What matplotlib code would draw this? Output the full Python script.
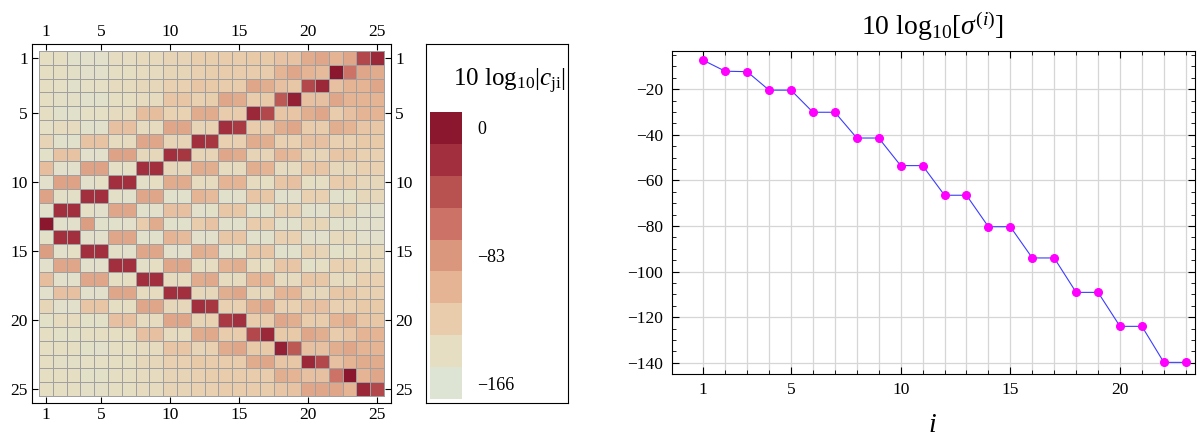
import numpy as np
import matplotlib.pyplot as plt
from matplotlib.colors import LinearSegmentedColormap

plt.rcParams['font.family'] = ['Liberation Serif', 'DejaVu Serif']
plt.rcParams['mathtext.fontset'] = 'custom'
plt.rcParams['mathtext.rm'] = 'Liberation Serif'
plt.rcParams['mathtext.it'] = 'Liberation Serif:italic'

# shade of each cell: 0 = lightest band (-166), 8 = darkest band (0)
c_shade = np.array([
    [1.0,1.0,0.5,0.6,0.6,1.1,1.1,1.3,1.3,1.6,1.6,1.9,1.9,2.0,2.0,2.1,2.1,2.4,2.4,3.3,3.5,3.0,3.5,6.3,7.3],
    [1.0,1.0,0.8,0.6,0.6,1.0,1.0,1.2,1.2,1.5,1.5,1.8,1.9,2.0,2.0,2.0,2.0,3.0,3.5,3.0,2.7,8.0,5.0,3.5,3.3],
    [1.0,0.9,0.5,0.9,0.9,1.2,1.2,1.4,1.4,1.8,1.8,2.3,2.1,2.0,2.0,3.5,3.2,2.5,2.2,6.3,7.3,2.5,3.0,3.0,3.5],
    [1.0,0.8,0.8,0.5,0.5,1.0,1.0,1.2,1.2,2.3,2.3,1.8,1.9,3.5,3.3,2.0,2.1,5.8,7.6,2.5,2.5,3.5,3.0,3.0,3.0],
    [1.0,0.5,0.5,0.9,0.9,1.2,1.2,2.6,2.6,1.7,1.7,3.3,3.3,2.0,2.0,7.3,6.3,2.3,2.3,3.2,3.5,2.0,2.5,3.0,3.0],
    [0.9,1.2,1.2,0.5,0.5,2.5,2.5,1.2,1.2,3.5,3.5,1.6,1.7,7.0,6.7,2.0,2.0,3.2,3.5,2.0,2.0,3.2,3.0,2.3,2.2],
    [1.6,0.5,0.5,2.4,2.4,1.2,1.2,3.5,3.5,1.6,1.6,7.0,6.8,1.8,1.8,3.3,3.2,1.8,1.8,2.5,2.5,1.8,1.8,2.1,2.1],
    [0.7,2.4,2.4,0.6,0.6,3.6,3.6,1.4,1.4,7.0,6.8,1.6,1.6,3.5,3.3,1.6,1.6,3.0,2.7,1.6,1.6,2.3,2.3,1.8,1.8],
    [2.6,0.6,0.6,3.6,3.6,0.9,0.9,7.0,7.0,1.4,1.4,3.3,3.2,1.2,1.2,3.2,3.0,1.2,1.2,2.3,2.3,1.4,1.4,1.8,1.8],
    [0.6,3.6,3.6,0.6,0.9,7.0,7.0,0.8,1.0,3.3,3.3,1.2,1.2,3.0,3.0,1.2,1.0,2.3,2.5,1.0,1.0,2.0,2.0,1.4,1.4],
    [3.6,0.8,0.8,7.0,7.0,0.8,0.5,3.5,3.5,0.5,0.5,3.0,2.7,0.5,0.6,2.3,2.2,0.5,0.6,1.8,1.8,0.5,0.7,1.4,1.4],
    [0.6,7.0,7.0,0.9,0.6,3.5,3.5,0.5,0.6,2.5,2.5,0.6,0.7,2.2,2.2,0.5,0.5,1.8,1.8,0.5,0.6,1.5,1.5,0.6,0.6],
    [8.0,0.5,0.6,3.8,0.5,0.5,0.6,2.0,3.3,0.5,0.5,2.0,2.4,0.5,0.5,2.0,2.0,0.5,0.5,1.5,1.5,0.5,0.5,0.6,0.6],
    [0.7,7.0,7.0,0.6,0.6,3.5,3.5,0.5,0.5,3.0,2.7,0.6,0.6,2.2,2.3,0.5,0.5,1.8,1.8,0.6,0.6,1.3,1.3,0.6,0.6],
    [3.8,0.6,0.9,7.0,7.0,0.8,0.6,3.5,3.5,0.6,0.6,3.2,3.1,0.6,0.7,2.2,2.3,0.5,0.5,1.8,1.6,0.7,0.9,1.3,1.3],
    [0.6,3.5,3.5,0.6,0.6,7.0,7.0,0.8,1.0,3.5,3.5,1.0,1.1,3.0,3.2,1.2,1.0,2.3,2.3,0.7,1.0,1.8,1.8,1.3,1.3],
    [2.6,0.6,0.6,3.5,3.5,1.0,1.0,7.0,7.0,1.2,1.2,3.3,3.4,1.2,1.2,3.0,3.0,1.2,1.2,2.3,2.2,1.2,1.2,1.8,1.8],
    [0.6,2.5,2.5,0.6,0.6,3.5,3.5,1.2,1.2,7.0,7.0,1.4,1.4,3.2,3.5,1.4,1.4,3.0,3.0,1.4,1.4,2.2,2.3,1.8,1.8],
    [1.5,0.6,0.6,2.3,2.3,1.0,1.0,3.5,3.5,1.4,1.4,7.0,6.8,1.8,1.8,3.2,3.5,1.8,1.8,2.5,2.5,1.8,1.8,2.1,2.1],
    [0.7,1.2,1.2,0.7,0.7,2.5,2.5,1.2,1.2,3.5,3.5,1.6,1.7,6.7,7.0,2.0,2.0,3.5,3.2,2.0,2.0,3.0,3.2,2.3,2.2],
    [1.0,0.7,0.7,1.0,1.0,1.0,1.0,2.5,2.5,1.2,1.2,3.3,3.4,2.0,2.0,6.3,7.3,2.1,2.1,3.5,3.2,2.0,2.3,3.0,3.0],
    [1.0,1.0,1.0,0.7,0.6,1.0,1.0,1.2,1.2,2.3,2.3,1.6,1.8,3.3,3.5,2.1,2.1,7.6,5.8,2.5,2.5,3.2,3.5,3.0,3.0],
    [1.0,0.8,0.8,0.9,0.9,1.0,1.0,1.4,1.4,1.8,1.8,2.1,2.0,2.0,2.0,3.3,3.5,2.3,2.2,7.3,6.3,2.5,3.0,3.3,3.3],
    [1.0,1.0,1.0,0.7,0.7,1.0,1.0,1.2,1.2,1.6,1.6,1.8,1.9,2.0,2.0,2.0,2.0,3.2,3.0,2.5,2.5,5.0,8.0,3.0,3.5],
    [1.0,1.0,1.0,0.8,0.8,1.0,1.0,1.2,1.2,1.6,1.6,1.8,1.8,2.0,2.0,2.0,2.0,2.3,2.4,3.5,3.5,3.5,3.0,7.3,6.3],
])
db_min, db_max = -166, 0
c_db = db_min + c_shade * (db_max - db_min) / 8

band_colors = ['#dde4d4', '#e5dec3', '#e9ccab', '#e4b495', '#da987e',
               '#cc7367', '#b95351', '#a2303d', '#8a172e']
cbar_labels = [0, -83, -166]
mat_ticks = [1, 5, 10, 15, 20, 25]

sigma_i = list(range(1, 24))
sigma_db = [-7.3, -12.1, -12.3, -20.4, -20.4, -30.1, -30.1, -41.4, -41.4,
            -53.5, -53.5, -66.5, -66.5, -80.3, -80.3, -94.0, -94.0,
            -109.1, -109.1, -124.0, -124.0, -139.8, -139.8]

W, H = 1203, 445
fig = plt.figure(figsize=(W / 100, H / 100), dpi=100)
cmap = LinearSegmentedColormap.from_list('cji', band_colors)

# matrix plot
ax = fig.add_axes([32 / W, 42 / H, 359 / W, 359 / H])
n = c_db.shape[0]
edges = np.arange(n + 1) + 0.5
ax.pcolormesh(edges, edges, c_db, cmap=cmap, vmin=db_min, vmax=db_max,
              edgecolors='#a0a0a0', linewidth=0.6)
ax.set_xlim(0, n + 1)
ax.set_ylim(n + 1, 0)
ax.set_xticks(mat_ticks)
ax.set_yticks(mat_ticks)
ax.tick_params(direction='in', length=4, top=True, right=True,
               labeltop=True, labelright=True, labelsize=12.5, pad=3)

# legend box with discrete bands
box = fig.add_axes([426 / W, 42 / H, 142 / W, 359 / H])
box.set_xticks([])
box.set_yticks([])
box.text(0.585, 0.883, r'10 log$_{10}$|$c_{\mathrm{ji}}$|', fontsize=18,
         ha='center', va='baseline', transform=box.transAxes)

cax = fig.add_axes([430 / W, 46 / H, 32 / W, 287 / H])
step = (db_max - db_min) / 8
centers = np.linspace(db_min, db_max, 9)
band_edges = np.append(centers - step / 2, db_max + step / 2)
cax.pcolormesh([0, 1], band_edges, centers.reshape(-1, 1), cmap=cmap,
               vmin=db_min, vmax=db_max)
cax.set_ylim(band_edges[0], band_edges[-1])
cax.set_xticks([])
cax.yaxis.tick_right()
cax.set_yticks(cbar_labels)
cax.set_yticklabels(['0', '\u221283', '\u2212166'])
cax.tick_params(length=0, pad=11, labelsize=13)
for s in cax.spines.values():
    s.set_visible(False)

# singular values
ax2 = fig.add_axes([671.7 / W, 71 / H, 523.3 / W, 323.3 / H])
ax2.plot(sigma_i, sigma_db, color='#3c3cff', lw=0.8, marker='o', ms=5.5,
         mfc='#ff00ff', mec='#ff00ff', zorder=3)
ax2.set_xlim(-0.44, 23.42)
ax2.set_ylim(-144.9, -3.1)
ax2.set_xticks([1, 5, 10, 15, 20])
ax2.set_xticks(sigma_i, minor=True)
ax2.set_yticks(range(-140, 0, 20))
ax2.set_yticks(range(-140, -4, 5), minor=True)
ax2.grid(axis='x', which='both', color='#d6d6d6', lw=0.9)
ax2.grid(axis='y', which='major', color='#d6d6d6', lw=0.9)
ax2.set_axisbelow(True)
ax2.tick_params(which='major', direction='in', length=5, top=True, right=True,
                labelsize=12.5, pad=6)
ax2.tick_params(which='minor', direction='in', length=3, top=True, right=True)

fig.text(932 / W, 1 - 35 / H, r'10 log$_{10}$[$\sigma^{(i)}$]', fontsize=20,
         ha='center', va='baseline')
fig.text(932 / W, 1 - 432 / H, 'i', fontsize=20, style='italic',
         ha='center', va='baseline')

fig.savefig('out.png', dpi=100)
